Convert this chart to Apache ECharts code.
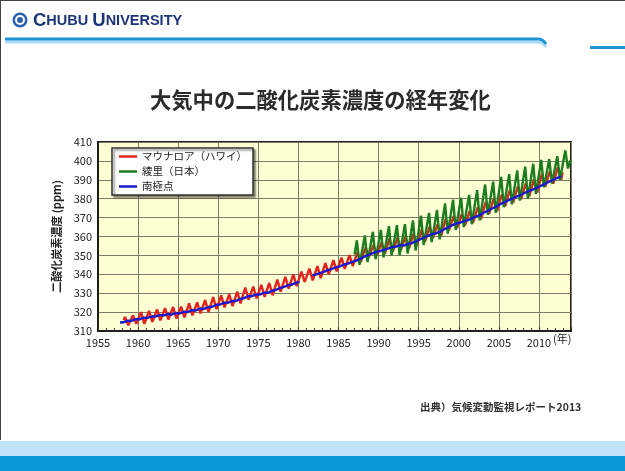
<!DOCTYPE html>
<html>
<head>
<meta charset="utf-8">
<script src="https://cdn.jsdelivr.net/npm/echarts@6/dist/echarts.min.js"></script>
<style>
  html, body { margin: 0; padding: 0; background: #ffffff; }
  #chart { width: 625px; height: 471px; }
</style>
</head>
<body>
<div id="chart"></div>
<script>
// ---- text ----
const slideTitle = '大気中の二酸化炭素濃度の経年変化';
const yAxisName = '二酸化炭素濃度 (ppm)';
const xUnit = '(年)';
const sourceNote = '出典）気候変動監視レポート2013';
const seriesNames = ['マウナロア（ハワイ）', '綾里（日本）', '南極点'];

// ---- axes ----
const xMin = 1955, xMax = 2014, xStep = 5;
const yMin = 310, yMax = 410, yStep = 10;

// ---- Mauna Loa (ppm): yearly spring maximum and autumn minimum, 1958-2012 ----
const maunaLoaFirstYear = 1958;
const maunaLoaPeak = [
  317.5, 318.3, 320.0, 320.6, 321.4, 322.1, 322.7, 322.9, 324.6, 325.1,
  326.4, 327.9, 328.9, 329.4, 330.8, 333.0, 333.5, 334.4, 335.4, 337.2,
  338.6, 339.9, 341.4, 343.0, 344.3, 346.0, 347.5, 348.8, 350.2, 351.8,
  354.3, 355.6, 357.0, 359.0, 359.5, 360.0, 361.6, 363.6, 365.2, 366.6,
  369.4, 370.9, 371.8, 373.5, 375.6, 378.3, 380.2, 382.2, 384.6, 386.5,
  388.3, 390.2, 393.2, 394.6, 396.8
];
const maunaLoaTrough = [
  313.0, 313.8, 313.8, 314.8, 315.6, 316.1, 316.6, 317.2, 318.3, 319.3,
  320.0, 321.6, 322.5, 323.2, 324.6, 326.6, 327.3, 328.1, 328.9, 330.8,
  332.4, 333.7, 336.0, 336.8, 338.0, 340.0, 341.5, 342.9, 344.3, 346.4,
  349.1, 349.8, 350.9, 352.1, 352.9, 353.5, 355.3, 357.2, 359.2, 360.0,
  363.2, 364.5, 365.9, 367.2, 369.2, 371.9, 373.4, 375.9, 377.9, 379.8,
  381.2, 383.2, 386.3, 387.9, 390.0
];
const maunaLoaStart = [1958.2, 315.7];
const maunaLoaEnd = [2012.95, 394.0];

// ---- Ryori, Japan (ppm): yearly April maximum and August minimum, 1987-2013 ----
const ryoriFirstYear = 1987;
const ryoriPeak = [
  358.0, 360.5, 362.5, 363.5, 365.5, 366.0, 366.5, 368.5, 371.0, 372.5,
  374.0, 377.5, 379.5, 380.5, 382.0, 384.5, 387.5, 389.0, 391.5, 393.0,
  395.0, 397.0, 398.5, 400.5, 401.0, 402.5, 405.5
];
const ryoriTrough = [
  345.0, 346.5, 348.0, 349.0, 350.0, 350.0, 351.0, 352.5, 355.5, 357.0,
  358.5, 361.5, 363.5, 365.0, 366.5, 368.5, 371.5, 372.5, 375.5, 377.0,
  379.0, 380.0, 382.5, 386.0, 388.0, 390.0, 396.0
];
const ryoriStart = [1987.0, 350.5];
const ryoriEnd = [2013.96, 400.5];

// ---- South Pole (ppm): yearly late-summer low and spring high, 1957-2012 (null = no record) ----
const southPoleFirstYear = 1957;
const southPoleLow = [
  null, 314.6, 315.3, 316.1, 316.9, 317.6, 318.1, 318.6, 319.2, 320.0,
  320.8, 321.6, 322.7, 323.9, 324.9, 325.8, 327.3, 328.4, 329.3, 330.2,
  331.7, 333.2, 334.5, 336.0, null, 339.8, 341.3, 342.8, 344.2, 345.6,
  347.1, 349.2, 351.0, 352.2, 353.6, 354.6, 355.2, 356.5, 358.5, 360.3,
  361.6, 363.8, 365.9, 367.3, 368.7, 370.5, 372.7, 374.8, 377.1, 379.1,
  381.0, 382.9, 384.7, 386.7, 388.8, 390.8
];
const southPoleHigh = [
  314.5, 315.5, 316.3, 317.1, 317.8, 318.5, 319.0, 319.6, 320.2, 321.0,
  321.9, 322.7, 323.9, 325.0, 325.9, 327.0, 328.4, 329.3, 330.3, 331.3,
  332.8, 334.3, 335.6, null, 339.5, 340.8, 342.3, 343.8, 345.2, 346.6,
  348.3, 350.3, 352.0, 353.1, 354.5, 355.5, 356.2, 357.6, 359.6, 361.4,
  362.7, 365.0, 367.0, 368.3, 369.8, 371.6, 373.8, 376.0, 378.2, 380.2,
  382.1, 384.0, 385.8, 387.8, 389.9, 391.8
];

// seasonal timing (fraction of a year) of the listed extremes
const maunaLoaPeakAt = 0.37, maunaLoaTroughAt = 0.78;
const ryoriPeakAt = 0.29, ryoriTroughAt = 0.62;
const southPoleLowAt = 0.15, southPoleHighAt = 0.75;

// interleave the two yearly extremes into one time-ordered [year, ppm] list
function yearlyPairs(firstYear, firstAt, firstVals, secondAt, secondVals) {
  const out = [];
  for (let i = 0; i < firstVals.length; i++) {
    const yr = firstYear + i;
    out.push([yr + firstAt, firstVals[i] == null ? '-' : firstVals[i]]);
    if (i < secondVals.length) {
      out.push([yr + secondAt, secondVals[i] == null ? '-' : secondVals[i]]);
    }
  }
  return out;
}

const maunaLoaData = [maunaLoaStart]
  .concat(yearlyPairs(maunaLoaFirstYear, maunaLoaPeakAt, maunaLoaPeak, maunaLoaTroughAt, maunaLoaTrough))
  .concat([maunaLoaEnd]);
const ryoriData = [ryoriStart]
  .concat(yearlyPairs(ryoriFirstYear, ryoriPeakAt, ryoriPeak, ryoriTroughAt, ryoriTrough))
  .concat([ryoriEnd]);
const southPoleData = yearlyPairs(southPoleFirstYear, southPoleLowAt, southPoleLow, southPoleHighAt, southPoleHigh)
  .filter(p => p[0] >= 1957.5);

const FONT = '"Noto Sans CJK JP", "Noto Sans", sans-serif';
const colors = ['#e4231e', '#1b7d22', '#1a1acb'];

const chart = echarts.init(document.getElementById('chart'), null, { renderer: 'canvas' });

chart.setOption({
  backgroundColor: '#ffffff',
  animation: false,
  textStyle: { fontFamily: FONT },
  graphic: [
    // slide frame
    { type: 'rect', shape: { x: 0, y: 0, width: 625, height: 1 }, style: { fill: '#444' }, silent: true },
    { type: 'rect', shape: { x: 0, y: 0, width: 1, height: 440 }, style: { fill: '#444' }, silent: true },
    // header emblem
    { type: 'circle', shape: { cx: 20, cy: 20, r: 7.5 }, style: { fill: '#2d5fae' } },
    { type: 'circle', shape: { cx: 20, cy: 20, r: 5 }, style: { fill: '#ffffff' } },
    { type: 'circle', shape: { cx: 20, cy: 20, r: 3 }, style: { fill: '#2d5fae' } },
    {
      type: 'text', x: 33, y: 11,
      style: {
        text: '{b|C}{s|HUBU }{b|U}{s|NIVERSITY}',
        rich: {
          b: { fontSize: 18.5, fontWeight: 'bold', fill: '#1d3577', fontFamily: '"Liberation Sans", sans-serif' },
          s: { fontSize: 14.5, fontWeight: 'bold', fill: '#1d3577', fontFamily: '"Liberation Sans", sans-serif' }
        }
      }
    },
    // header rule
    { type: 'line', shape: { x1: 5, y1: 42, x2: 538, y2: 42 }, style: { stroke: '#a9d9f3', lineWidth: 3 } },
    { type: 'bezierCurve', shape: { x1: 538, y1: 42, cpx1: 543, cpy1: 42, x2: 546, y2: 47 }, style: { stroke: '#a9d9f3', lineWidth: 3, fill: null } },
    { type: 'line', shape: { x1: 5, y1: 39, x2: 538, y2: 39 }, style: { stroke: '#1f95d8', lineWidth: 3 } },
    { type: 'bezierCurve', shape: { x1: 538, y1: 39, cpx1: 543, cpy1: 39, x2: 546, y2: 44 }, style: { stroke: '#1f95d8', lineWidth: 3, fill: null } },
    { type: 'rect', shape: { x: 590, y: 46, width: 35, height: 3 }, style: { fill: '#1f95d8' } },
    // title
    {
      type: 'text', x: 150, y: 89,
      style: { text: slideTitle, fontSize: 21.3, fontWeight: 'bold', fill: '#2b2b2b', fontFamily: FONT }
    },
    // x unit
    {
      type: 'text', x: 553, y: 333,
      style: { text: xUnit, fontSize: 11, fill: '#222', fontFamily: FONT }
    },
    // source note
    {
      type: 'text', x: 420, y: 402,
      style: { text: sourceNote, fontSize: 10.5, fontWeight: 'bold', fill: '#333', fontFamily: FONT }
    },
    // footer bands
    { type: 'rect', shape: { x: 0, y: 441, width: 625, height: 15 }, style: { fill: '#bfe4f7' } },
    { type: 'rect', shape: { x: 0, y: 456, width: 625, height: 15 }, style: { fill: '#0b9ada' } }
  ],
  legend: {
    orient: 'vertical',
    left: 112, top: 148,
    data: seriesNames,
    icon: 'rect',
    itemWidth: 18, itemHeight: 2.5,
    itemGap: 2,
    padding: [2, 6, 2, 7],
    backgroundColor: '#ffffff',
    borderColor: '#333',
    borderWidth: 1.5,
    shadowColor: 'rgba(0,0,0,0.45)',
    shadowBlur: 2,
    shadowOffsetX: 2,
    shadowOffsetY: 2,
    textStyle: { fontSize: 10.5, color: '#222', fontFamily: FONT, lineHeight: 13 }
  },
  grid: {
    left: 98, top: 142, right: 54, bottom: 140,
    show: true,
    backgroundColor: '#ffffd4',
    borderColor: '#1e1e1e',
    borderWidth: 2
  },
  xAxis: {
    type: 'value',
    min: xMin, max: xMax, interval: xStep,
    axisLine: { show: true, lineStyle: { color: '#1e1e1e', width: 2 } },
    axisTick: { show: true, inside: true, length: 4, lineStyle: { color: '#333' } },
    minorTick: { show: true, splitNumber: 5, length: 3, lineStyle: { color: '#444' } },
    splitLine: { show: true, lineStyle: { color: '#7c7c68', width: 1 } },
    axisLabel: {
      color: '#222', fontSize: 11, margin: 6, fontFamily: FONT,
      formatter: v => (v % xStep === 0 ? String(v) : '')
    }
  },
  yAxis: {
    type: 'value',
    min: yMin, max: yMax, interval: yStep,
    name: yAxisName,
    nameLocation: 'middle',
    nameGap: 33,
    nameRotate: 90,
    nameTextStyle: { fontSize: 11, color: '#222', fontWeight: 'bold', fontFamily: FONT },
    axisLine: { show: true, lineStyle: { color: '#1e1e1e', width: 2 } },
    axisTick: { show: false },
    splitLine: { show: true, lineStyle: { color: '#7c7c68', width: 1 } },
    axisLabel: { color: '#222', fontSize: 11, margin: 6, fontFamily: FONT }
  },
  series: [
    {
      name: seriesNames[0], type: 'line', data: maunaLoaData,
      showSymbol: false, symbol: 'none', connectNulls: false,
      lineStyle: { color: colors[0], width: 2.4 }, itemStyle: { color: colors[0] }, z: 2
    },
    {
      name: seriesNames[1], type: 'line', data: ryoriData,
      showSymbol: false, symbol: 'none', connectNulls: false,
      lineStyle: { color: colors[1], width: 2.4 }, itemStyle: { color: colors[1] }, z: 3
    },
    {
      name: seriesNames[2], type: 'line', data: southPoleData,
      showSymbol: false, symbol: 'none', connectNulls: false,
      lineStyle: { color: colors[2], width: 2.4 }, itemStyle: { color: colors[2] }, z: 4
    }
  ]
});
</script>
</body>
</html>
